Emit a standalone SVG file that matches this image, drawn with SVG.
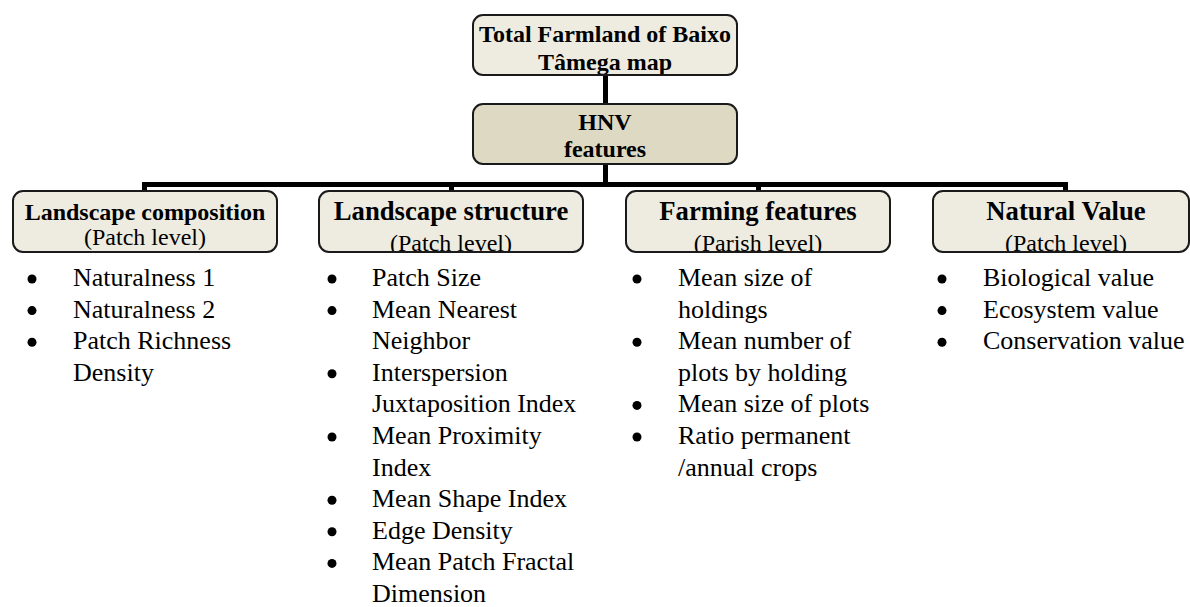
<svg xmlns="http://www.w3.org/2000/svg" width="1190" height="607" viewBox="0 0 1190 607">
<style>
.box{fill:#EEECE1;stroke:#1a1a1a;stroke-width:2}
.hnv{fill:#DDD9C3;stroke:#1a1a1a;stroke-width:2}
.t{font-family:"Liberation Serif","Times New Roman",serif;fill:#000}
.b{font-weight:bold}
.c{text-anchor:middle}
.li{font-size:26px}
.conn{stroke:#000;stroke-width:5;fill:none}
.bul{fill:#000}
</style>
<defs>
<clipPath id="cTop"><rect x="474" y="16" width="262" height="58"/></clipPath>
<clipPath id="c2"><rect x="320" y="192" width="262" height="59"/></clipPath>
<clipPath id="c3"><rect x="627" y="192" width="262" height="59"/></clipPath>
<clipPath id="c4"><rect x="934" y="192" width="254" height="59"/></clipPath>
</defs>
<rect width="1190" height="607" fill="#fff"/>
<g id="connectors">
<line class="conn" x1="605.5" y1="75" x2="605.5" y2="104"/>
<line class="conn" x1="605.5" y1="164" x2="605.5" y2="184"/>
<line class="conn" x1="142" y1="184.5" x2="1068" y2="184.5"/>
<line class="conn" x1="144.5" y1="184" x2="144.5" y2="191"/>
<line class="conn" x1="451.5" y1="184" x2="451.5" y2="191"/>
<line class="conn" x1="758.5" y1="184" x2="758.5" y2="191"/>
<line class="conn" x1="1065.5" y1="184" x2="1065.5" y2="191"/>
</g>
<g id="node-top">
<rect class="box" x="473" y="15" width="264" height="60" rx="10"/>
<g clip-path="url(#cTop)">
<text class="t b c" x="605" y="42" font-size="24">Total Farmland of Baixo</text>
<text class="t b c" x="605" y="70" font-size="24">Tâmega map</text>
</g>
</g>
<g id="node-hnv">
<rect class="hnv" x="473" y="104" width="264" height="60" rx="10"/>
<text class="t b c" x="605" y="130" font-size="24">HNV</text>
<text class="t b c" x="605" y="157" font-size="24">features</text>
</g>
<g id="node-composition">
<rect class="box" x="13" y="191" width="264" height="61" rx="10"/>
<text class="t b c" x="145" y="220" font-size="24">Landscape composition</text>
<text class="t c" x="145" y="245" font-size="24">(Patch level)</text>
</g>
<g id="node-structure">
<rect class="box" x="319" y="191" width="264" height="61" rx="10"/>
<text class="t b c" x="451" y="220" font-size="26.7">Landscape structure</text>
<g clip-path="url(#c2)"><text class="t c" x="451" y="251" font-size="24">(Patch level)</text></g>
</g>
<g id="node-farming">
<rect class="box" x="626" y="191" width="264" height="61" rx="10"/>
<text class="t b c" x="758" y="220" font-size="26.7">Farming features</text>
<g clip-path="url(#c3)"><text class="t c" x="758" y="251" font-size="24">(Parish level)</text></g>
</g>
<g id="node-natural">
<rect class="box" x="933" y="191" width="256" height="61" rx="10"/>
<text class="t b c" x="1066" y="220" font-size="26.7">Natural Value</text>
<g clip-path="url(#c4)"><text class="t c" x="1066" y="251" font-size="24">(Patch level)</text></g>
</g>
<g id="list-composition" class="t li">
<circle class="bul" cx="32" cy="279" r="4.5"/><text x="73" y="286">Naturalness 1</text>
<circle class="bul" cx="32" cy="310.6" r="4.5"/><text x="73" y="317.6">Naturalness 2</text>
<circle class="bul" cx="32" cy="342.2" r="4.5"/><text x="73" y="349.2">Patch Richness</text>
<text x="73" y="380.8">Density</text>
</g>
<g id="list-structure" class="t li">
<circle class="bul" cx="332" cy="279" r="4.5"/><text x="372" y="286">Patch Size</text>
<circle class="bul" cx="332" cy="310.6" r="4.5"/><text x="372" y="317.6">Mean Nearest</text>
<text x="372" y="349.2">Neighbor</text>
<circle class="bul" cx="332" cy="373.8" r="4.5"/><text x="372" y="380.8">Interspersion</text>
<text x="372" y="412.4">Juxtaposition Index</text>
<circle class="bul" cx="332" cy="437" r="4.5"/><text x="372" y="444">Mean Proximity</text>
<text x="372" y="475.6">Index</text>
<circle class="bul" cx="332" cy="500.2" r="4.5"/><text x="372" y="507.2">Mean Shape Index</text>
<circle class="bul" cx="332" cy="531.8" r="4.5"/><text x="372" y="538.8">Edge Density</text>
<circle class="bul" cx="332" cy="563.4" r="4.5"/><text x="372" y="570.4">Mean Patch Fractal</text>
<text x="372" y="602">Dimension</text>
</g>
<g id="list-farming" class="t li">
<circle class="bul" cx="637" cy="279" r="4.5"/><text x="678" y="286">Mean size of</text>
<text x="678" y="317.6">holdings</text>
<circle class="bul" cx="637" cy="342.2" r="4.5"/><text x="678" y="349.2">Mean number of</text>
<text x="678" y="380.8">plots by holding</text>
<circle class="bul" cx="637" cy="405.4" r="4.5"/><text x="678" y="412.4">Mean size of plots</text>
<circle class="bul" cx="637" cy="437" r="4.5"/><text x="678" y="444">Ratio permanent</text>
<text x="678" y="475.6">/annual crops</text>
</g>
<g id="list-natural" class="t li">
<circle class="bul" cx="942" cy="279" r="4.5"/><text x="983" y="286">Biological value</text>
<circle class="bul" cx="942" cy="310.6" r="4.5"/><text x="983" y="317.6">Ecosystem value</text>
<circle class="bul" cx="942" cy="342.2" r="4.5"/><text x="983" y="349.2">Conservation value</text>
</g>
</svg>
